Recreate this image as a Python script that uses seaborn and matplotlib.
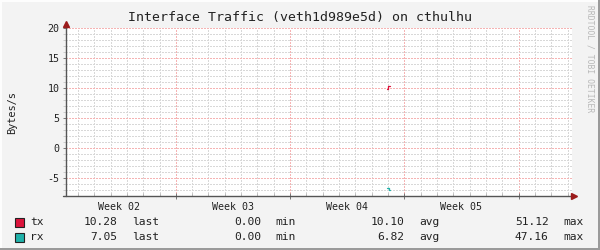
import numpy as np
import pandas as pd
import matplotlib
matplotlib.use("Agg")
import matplotlib.pyplot as plt
from matplotlib.patches import Rectangle
from matplotlib.lines import Line2D
import seaborn as sns

# ---- data (x in days from start of the 31-day window) ----
tx_days = [19.93, 19.99, 20.11]
tx_vals = [9.88, 10.28, 10.28]
rx_days = [19.93, 20.05, 20.11]
rx_vals = [6.72, 7.05, 7.05]          # plotted as negative values

week_bounds = [7, 14, 21, 28]
week_label_pos = [3.5, 10.5, 17.5, 24.5]
week_labels = ["Week 02", "Week 03", "Week 04", "Week 05"]
y_ticks = [-5, 0, 5, 10, 15, 20]

series_names = ["tx", "rx"]
series_colors = ["#DC143C", "#20B2AA"]
stat_last = ["10.28", "7.05"]
stat_min = ["0.00", "0.00"]
stat_avg = ["10.10", "6.82"]
stat_max = ["51.12", "47.16"]

title = "Interface Traffic (veth1d989e5d) on cthulhu"
ylabel = "Bytes/s"

sns.set_style("white")
plt.rcParams["font.family"] = ["DejaVu Sans Mono"]

W, H = 600, 250
fig = plt.figure(figsize=(6, 2.5), dpi=100)
fig.patch.set_facecolor("#F3F3F3")

L, R, T, B = 66, 572, 28, 196
ax = fig.add_axes([L / W, 1 - B / H, (R - L) / W, (B - T) / H])
ax.set_facecolor("white")

df_tx = pd.DataFrame({"day": tx_days, "value": tx_vals})
df_rx = pd.DataFrame({"day": rx_days, "value": [-v for v in rx_vals]})
sns.lineplot(data=df_tx, x="day", y="value", ax=ax, color=series_colors[0],
             drawstyle="steps-post", lw=0.9, zorder=5)
sns.lineplot(data=df_rx, x="day", y="value", ax=ax, color=series_colors[1],
             drawstyle="steps-post", lw=0.9, zorder=5)

ax.set_xlim(0.27, 31.27)
ax.set_ylim(-8, 20)
ax.set_xlabel("")
ax.set_ylabel("")

ax.set_xticks(week_bounds)
ax.set_xticklabels([])
ax.set_xticks(np.arange(1, 32), minor=True)
ax.set_yticks(y_ticks)
ax.set_yticklabels([str(v) for v in y_ticks], fontsize=7.2, color="#222222")
ax.set_yticks(np.arange(-8, 21), minor=True)

ax.set_axisbelow(True)
ax.grid(which="minor", color="#d8d8d8", linestyle=(0, (1.4, 1.4)), lw=0.72,
        antialiased=False)
ax.grid(which="major", color="#f5b4b4", linestyle=(0, (1.4, 1.4)), lw=0.72,
        antialiased=False)

ax.tick_params(axis="y", which="major", left=True, length=2.2, width=0.7,
               color="#777777", direction="out", pad=2.5)
ax.tick_params(axis="y", which="minor", left=True, length=2.0, width=0.7,
               color="#cccccc", direction="out")
ax.tick_params(axis="x", which="major", bottom=True, length=4, width=0.7,
               color="#777777", direction="inout")
ax.tick_params(axis="x", which="minor", bottom=True, length=2, width=0.7,
               color="#bbbbbb", direction="in")

for s in ax.spines.values():
    s.set_visible(False)

# axes lines with arrows
ax_col = "#555555"
arrow_col = "#9B1B1B"
ax.add_line(Line2D([0, 0], [0, 1.02], transform=ax.transAxes, color=ax_col,
                   lw=1, clip_on=False, zorder=6))
ax.add_line(Line2D([-0.006, 1.0], [0, 0], transform=ax.transAxes, color=ax_col,
                   lw=1, clip_on=False, zorder=6))
ax.plot([0], [1.025], marker="^", ms=5, color=arrow_col, transform=ax.transAxes,
        clip_on=False, zorder=7)
ax.plot([1.004], [0], marker=">", ms=5, color=arrow_col, transform=ax.transAxes,
        clip_on=False, zorder=7)

for p, lab in zip(week_label_pos, week_labels):
    ax.text(p, -0.035, lab, transform=ax.get_xaxis_transform(), ha="center",
            va="top", fontsize=7.2, color="#222222")

fig.text(0.5, 1 - 18 / H, title, ha="center", va="center", fontsize=9.5,
         color="#222222")
fig.text(12 / W, 1 - 113 / H, ylabel, ha="center", va="center", rotation=90,
         fontsize=7.4, color="#222222")
fig.text(590 / W, 1 - 5 / H, "RRDTOOL / TOBI OETIKER", ha="center", va="top",
         rotation=270, fontsize=5.8, color="#b8b8b8")

# legend rows
row_y = [222, 237]
for i in range(2):
    y = 1 - row_y[i] / H
    fig.patches.append(Rectangle((15 / W, 1 - (row_y[i] + 5) / H), 9 / W, 9.5 / H,
                                 transform=fig.transFigure, facecolor=series_colors[i],
                                 edgecolor="#222222", lw=0.8))
    kw = dict(va="center", fontsize=8.1, color="#222222")
    fig.text(30 / W, y, series_names[i], ha="left", **kw)
    fig.text(117 / W, y, stat_last[i], ha="right", **kw)
    fig.text(132 / W, y, "last", ha="left", **kw)
    fig.text(261 / W, y, stat_min[i], ha="right", **kw)
    fig.text(275 / W, y, "min", ha="left", **kw)
    fig.text(404.5 / W, y, stat_avg[i], ha="right", **kw)
    fig.text(419 / W, y, "avg", ha="left", **kw)
    fig.text(548.5 / W, y, stat_max[i], ha="right", **kw)
    fig.text(563 / W, y, "max", ha="left", **kw)

# image border (3D shade)
fig.patches.append(Rectangle((0, 0), 2 / W, 1, transform=fig.transFigure,
                             facecolor="#fdfdfd", edgecolor="none"))
fig.patches.append(Rectangle((0, 1 - 2 / H), 1, 2 / H, transform=fig.transFigure,
                             facecolor="#fdfdfd", edgecolor="none"))
fig.patches.append(Rectangle((1 - 2 / W, 0), 2 / W, 1, transform=fig.transFigure,
                             facecolor="#9a9a9a", edgecolor="none"))
fig.patches.append(Rectangle((0, 0), 1, 2 / H, transform=fig.transFigure,
                             facecolor="#9a9a9a", edgecolor="none"))

fig.savefig("out.png", dpi=100, facecolor=fig.get_facecolor())
